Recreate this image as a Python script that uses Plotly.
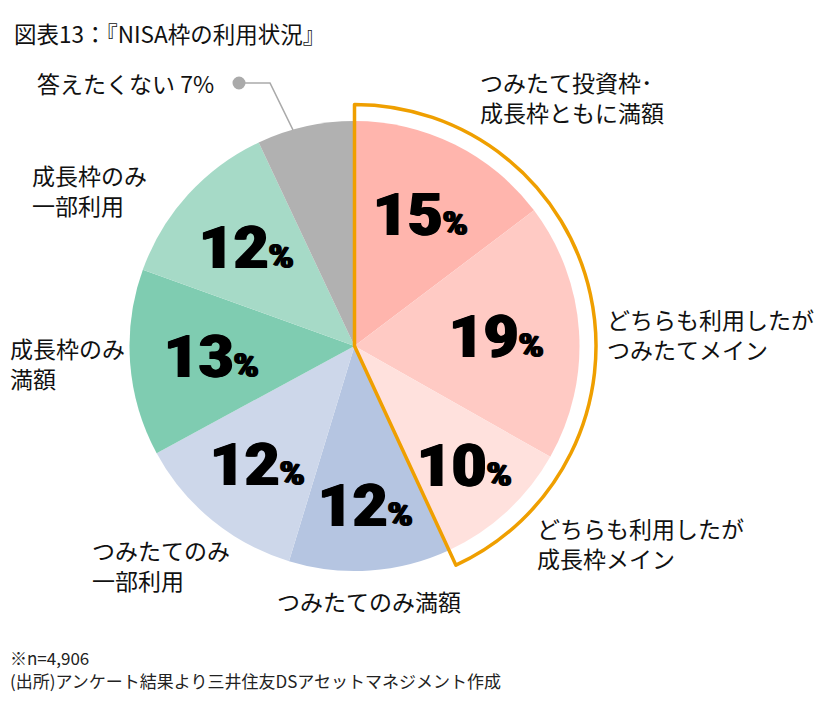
import math
import plotly.graph_objects as go

# ---- data ----
categories = [
    "つみたて投資枠･<br>成長枠ともに満額",
    "どちらも利用したが<br>つみたてメイン",
    "どちらも利用したが<br>成長枠メイン",
    "つみたてのみ満額",
    "つみたてのみ<br>一部利用",
    "成長枠のみ<br>満額",
    "成長枠のみ<br>一部利用",
    "答えたくない",
]
values = [14.7, 18.5, 9.9, 11.6, 12.4, 13.4, 12.5, 7.0]
pct_labels = ["15", "19", "10", "12", "12", "13", "12", "7"]
highlight_n = 3  # first three slices are outlined

colors = ["#FFB5AD", "#FFCAC4", "#FFE1DD", "#B5C5E1", "#CDD7EA", "#7FCCB1", "#A6DAC7", "#B1B1B1"]
ORANGE = "#EF9F00"

# the page body adds an 8px margin; work in screen pixels and shift
OFF = 8
W, H = 822 - OFF, 710 - OFF
def X(s): return max(s - OFF, 0)
def Y(s): return s - OFF

cx, cy, R = X(354.5), Y(346.0), 225.0
R2 = 241.5

def dom(r):
    return dict(x=[(cx - r) / W, (cx + r) / W], y=[1 - (cy + r) / H, 1 - (cy - r) / H])

fig = go.Figure()
fig.add_trace(go.Pie(
    labels=categories, values=values, sort=False, direction="clockwise", rotation=0,
    marker=dict(colors=colors, line=dict(width=0)),
    textinfo="none", hoverinfo="label+percent", domain=dom(R), showlegend=False,
))
hi = sum(values[:highlight_n])
rest = sum(values[highlight_n:])
fig.add_trace(go.Pie(
    labels=["outline", "rest"], values=[hi, rest], sort=False, direction="clockwise", rotation=0,
    marker=dict(colors=["rgba(0,0,0,0)", "rgba(0,0,0,0)"],
                line=dict(color=[ORANGE, "rgba(0,0,0,0)"], width=[3.5, 0])),
    textinfo="none", hoverinfo="skip", domain=dom(R2), showlegend=False,
))
# invisible pixel axes for annotations
fig.add_trace(go.Scatter(x=[0, W], y=[0, H], mode="markers", marker=dict(opacity=0),
                         hoverinfo="skip", showlegend=False))

ann = []
JP = "Noto Sans CJK JP"
TXT = "#111111"
# inner percentage labels
label_r = [147, 142, 163, 160, 153, 143, 146]
cum = 0
for i, v in enumerate(values):
    mid = (cum + v / 2) / 100 * 2 * math.pi
    cum += v
    if i >= len(label_r):
        continue
    x = cx + label_r[i] * math.sin(mid)
    y = cy - label_r[i] * math.cos(mid)
    ann.append(dict(
        x=x, y=y, xref="x", yref="y", showarrow=False, xanchor="center", yanchor="middle",
        text=f"{pct_labels[i]}<span style='font-size:34px'>%</span>",
        font=dict(family="Roboto", size=60, color="#000000", weight=900,
                  shadow="1px 0px 0px #000, -1px 0px 0px #000"),
    ))

# outside category labels (left x, middle y) in screen pixels
out_pos = [(478, 97), (605, 334), (535, 543), (275, 601), (90, 565), (8, 363), (30, 190)]
for i, (x, y) in enumerate(out_pos):
    ann.append(dict(x=X(x), y=Y(y), xref="x", yref="y", showarrow=False, xanchor="left", yanchor="middle",
                    align="left", text=categories[i], font=dict(family=JP, size=23, color=TXT)))
ann.append(dict(x=X(35), y=Y(83), xref="x", yref="y", showarrow=False, xanchor="left", yanchor="middle",
                text=f"{categories[7]} {pct_labels[7]}%", font=dict(family=JP, size=23, color=TXT)))

# title & footnotes
ann.append(dict(x=X(12), y=Y(33), xref="x", yref="y", showarrow=False, xanchor="left", yanchor="middle",
                text="図表13：『NISA枠の利用状況』", font=dict(family=JP, size=22.5, color=TXT)))
ann.append(dict(x=X(8), y=Y(657), xref="x", yref="y", showarrow=False, xanchor="left", yanchor="middle",
                text="※n=4,906", font=dict(family=JP, size=17, color="#222222")))
ann.append(dict(x=X(8), y=Y(680), xref="x", yref="y", showarrow=False, xanchor="left", yanchor="middle",
                text="(出所)アンケート結果より三井住友DSアセットマネジメント作成",
                font=dict(family=JP, size=17, color="#222222")))

shapes = [
    dict(type="path", path=f"M {X(239)} {Y(83)} L {X(270)} {Y(83)} L {X(293)} {Y(130)}", xref="x", yref="y",
         line=dict(color="#AAAAAA", width=1.6)),
    dict(type="circle", x0=X(232.5), x1=X(245.5), y0=Y(76.5), y1=Y(89.5), xref="x", yref="y",
         fillcolor="#AAAAAA", line=dict(width=0)),
]

fig.update_layout(
    width=W, height=H, margin=dict(l=0, r=0, t=0, b=0),
    paper_bgcolor="white", plot_bgcolor="rgba(0,0,0,0)",
    xaxis=dict(range=[0, W], visible=False, fixedrange=True),
    yaxis=dict(range=[H, 0], visible=False, fixedrange=True),
    annotations=ann, shapes=shapes, showlegend=False,
)
fig.write_html("out.html")
